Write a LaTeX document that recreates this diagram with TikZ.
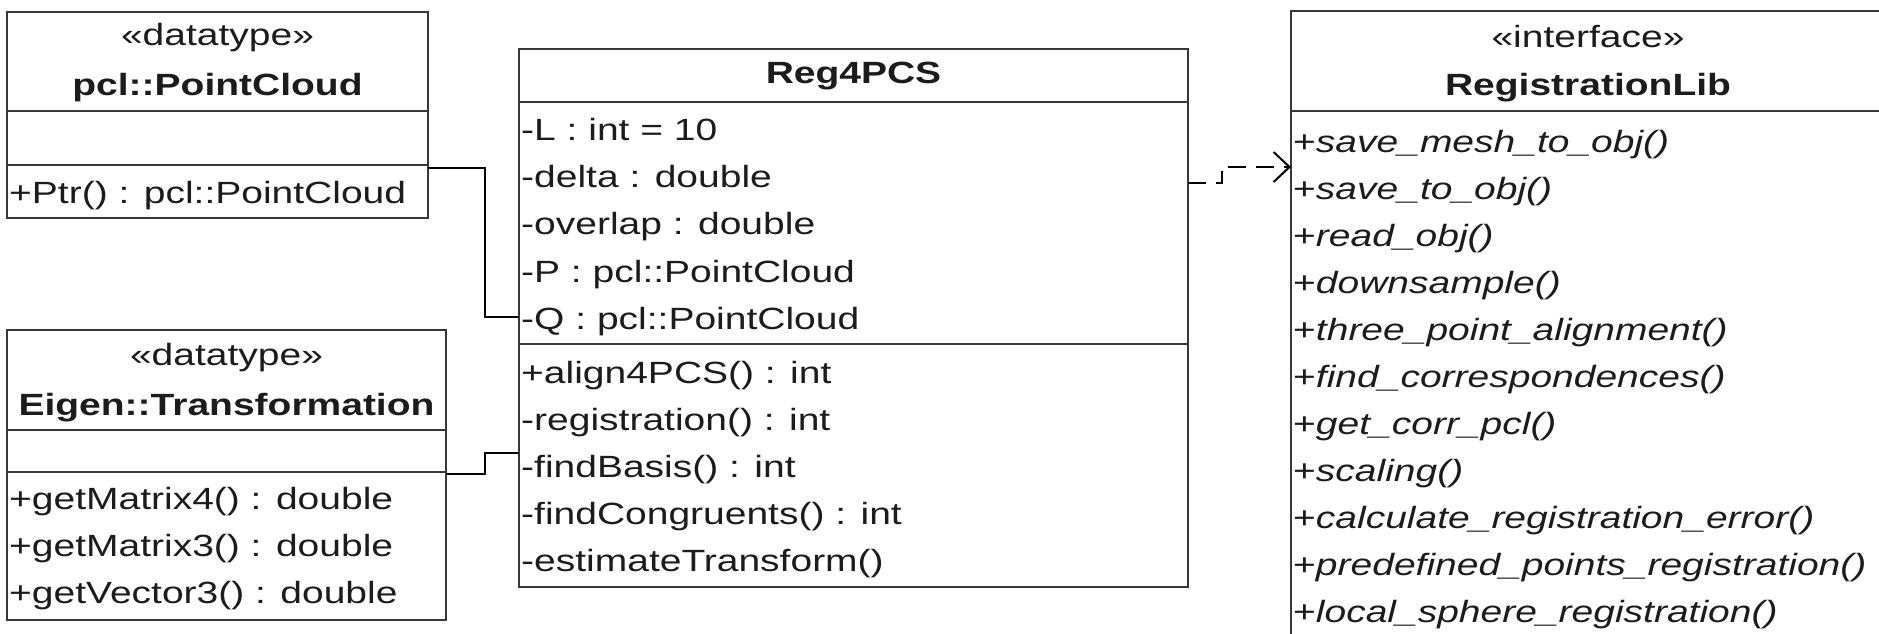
\documentclass[tikz,border=0pt]{standalone}
\usepackage{fontspec}
\setmainfont{Liberation Sans}[FakeStretch=1.27]
\usetikzlibrary{calc,arrows.meta}
\definecolor{boxline}{HTML}{383838}
\definecolor{txt}{HTML}{1C1C1C}
\begin{document}
\begin{tikzpicture}[x=1pt,y=-1pt,
  comp/.style={draw=boxline, line width=2.6pt, fill=white, anchor=north west, inner sep=0pt, outer sep=0pt},
  lbl/.style={inner sep=0pt, anchor=base west, text=txt, font=\fontsize{30.7}{47}\selectfont},
  ttl/.style={inner sep=0pt, anchor=base, text=txt, font=\fontsize{30.7}{47}\selectfont},
  conn/.style={draw=black, line width=2pt},
  realize/.style={draw=black, line width=2pt, dash pattern=on 18pt off 10pt, -{Straight Barb[length=16pt,width=30pt]}}
]
\clip (0,0) rectangle (1879,633);
\fill[white] (0,0) rectangle (1879,633);

% pcl::PointCloud
\node[comp, minimum width=421pt, minimum height=99pt] (pclH) at (7,12) {};
\node[comp, minimum width=421pt, minimum height=54pt] (pclA) at (7,111) {};
\node[comp, minimum width=421pt, minimum height=53pt] (pclO) at (7,165) {};
\node[ttl] (pclS) at (217.5,45) {«datatype»};
\node[ttl] (pclN) at (217.5,95) {\bfseries pcl::PointCloud};
\node[lbl] (pclO1) at (9,203) {+Ptr() : pcl::PointCloud};

% Eigen::Transformation
\node[comp, minimum width=439pt, minimum height=100pt] (eigH) at (7,330) {};
\node[comp, minimum width=439pt, minimum height=42pt] (eigA) at (7,430) {};
\node[comp, minimum width=439pt, minimum height=148pt] (eigO) at (7,472) {};
\node[ttl] (eigS) at (226.5,365) {«datatype»};
\node[ttl] (eigN) at (226.5,415) {\bfseries Eigen::Transformation};
\node[lbl] (eigO1) at (9,509) {+getMatrix4() : double};
\node[lbl] (eigO2) at (9,556) {+getMatrix3() : double};
\node[lbl] (eigO3) at (9,603) {+getVector3() : double};

% Reg4PCS
\node[comp, minimum width=669pt, minimum height=53pt] (regH) at (519,49) {};
\node[comp, minimum width=669pt, minimum height=242pt] (regA) at (519,102) {};
\node[comp, minimum width=669pt, minimum height=243pt] (regO) at (519,344) {};
\node[ttl] (regN) at (853.5,83) {\bfseries Reg4PCS};
\node[lbl] (regA1) at (521,140) {-L : int = 10};
\node[lbl] (regA2) at (521,187) {-delta : double};
\node[lbl] (regA3) at (521,234) {-overlap : double};
\node[lbl] (regA4) at (521,282) {-P : pcl::PointCloud};
\node[lbl] (regA5) at (521,329) {-Q : pcl::PointCloud};
\node[lbl] (regO1) at (521,383) {+align4PCS() : int};
\node[lbl] (regO2) at (521,430) {-registration() : int};
\node[lbl] (regO3) at (521,477) {-findBasis() : int};
\node[lbl] (regO4) at (521,524) {-findCongruents() : int};
\node[lbl] (regO5) at (521,571) {-estimateTransform()};

% RegistrationLib
\node[comp, minimum width=594pt, minimum height=100pt] (libH) at (1291,11) {};
\node[comp, minimum width=594pt, minimum height=600pt] (libO) at (1291,111) {};
\node[ttl] (libS) at (1588,47) {«interface»};
\node[ttl] (libN) at (1588,95) {\bfseries RegistrationLib};
\node[lbl] (libO1) at (1293,152) {+\textit{save\_mesh\_to\_obj()}};
\node[lbl] (libO2) at (1293,199) {+\textit{save\_to\_obj()}};
\node[lbl] (libO3) at (1293,246) {+\textit{read\_obj()}};
\node[lbl] (libO4) at (1293,293) {+\textit{downsample()}};
\node[lbl] (libO5) at (1293,340) {+\textit{three\_point\_alignment()}};
\node[lbl] (libO6) at (1293,387) {+\textit{find\_correspondences()}};
\node[lbl] (libO7) at (1293,434) {+\textit{get\_corr\_pcl()}};
\node[lbl] (libO8) at (1293,481) {+\textit{scaling()}};
\node[lbl] (libO9) at (1293,528) {+\textit{calculate\_registration\_error()}};
\node[lbl] (libO10) at (1293,575) {+\textit{predefined\_points\_registration()}};
\node[lbl] (libO11) at (1293,622) {+\textit{local\_sphere\_registration()}};

% connectors
\coordinate (bend) at (485,0);
\coordinate (c1a) at ($(pclO.north east)+(0,3)$);
\coordinate (c1b) at ($(regA.south west)+(0,-27)$);
\draw[conn] (c1a) -| (bend |- c1b) -- (c1b);
\coordinate (c2a) at ($(eigO.north east)+(0,2)$);
\coordinate (c2b) at ($(regO.north west)+(0,109)$);
\draw[conn] (c2a) -| (bend |- c2b) -- (c2b);
\coordinate (d1) at ($(regA.north east)+(0,81)$);
\coordinate (d2) at ($(libO.north west)+(0,56)$);
\draw[realize] (d1) -- ++(34,0) |- (d2);
\end{tikzpicture}
\end{document}
